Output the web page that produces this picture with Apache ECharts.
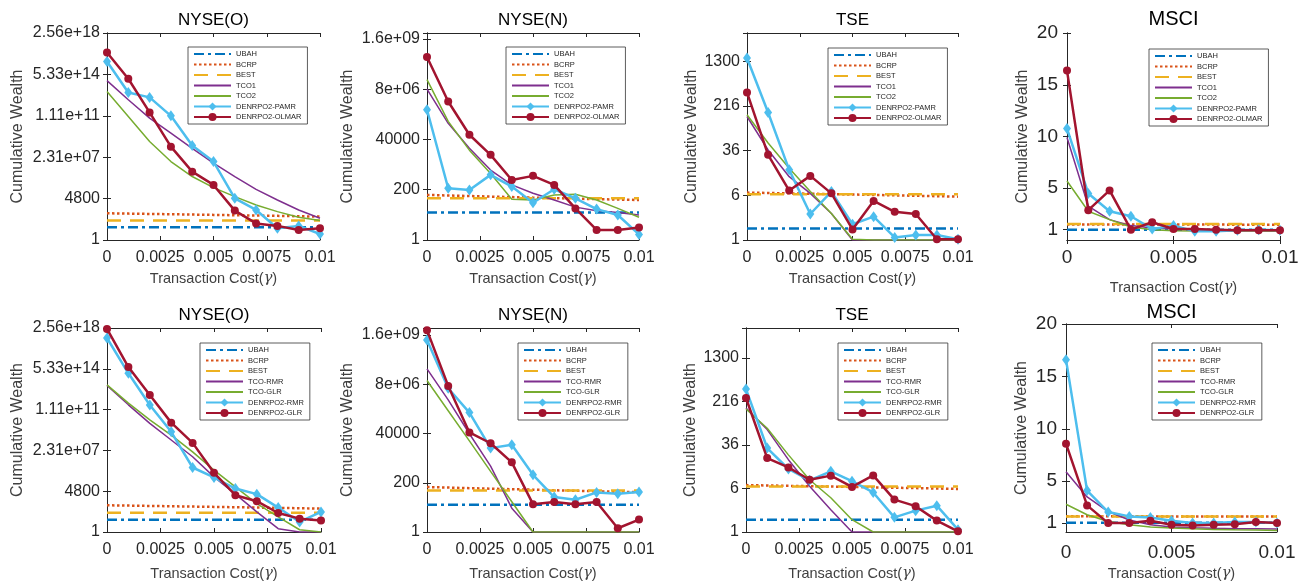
<!DOCTYPE html>
<html lang="en">
<head>
    <meta charset="UTF-8">
    <title>Cumulative Wealth vs Transaction Cost</title>
    <script src="https://cdn.jsdelivr.net/npm/echarts@6/dist/echarts.min.js"></script>
    <style>
        html, body { margin: 0; padding: 0; background: #fff; }
        #main { width: 1311px; height: 586px; }
    </style>
</head>
<body>
<div id="main"></div>
<script type="text/javascript">
    // transaction cost values (x)
    var gammas = [0, 0.001, 0.002, 0.003, 0.004, 0.005, 0.006, 0.007, 0.008, 0.009, 0.01];

    var namesTop = ['UBAH', 'BCRP', 'BEST', 'TCO1', 'TCO2', 'DENRPO2-PAMR', 'DENRPO2-OLMAR'];
    var namesBottom = ['UBAH', 'BCRP', 'BEST', 'TCO-RMR', 'TCO-GLR', 'DENRPO2-RMR', 'DENRPO2-GLR'];

    // tick labels of the log axes
    var ticksNyseO = ['1', '4800', '2.31e+07', '1.11e+11', '5.33e+14', '2.56e+18'];
    var ticksNyseN = ['1', '200', '40000', '8e+06', '1.6e+09'];
    var ticksTse = ['1', '6', '36', '216', '1300'];
    var ticksMsci = [1, 5, 10, 15, 20];

    // cumulative wealth, one row per series (same order as names)
    var nyseOTop = [
        [13.4, 13.4, 13.4, 13.4, 13.4, 13.4, 13.4, 13.4, 13.4, 13.4, 13.4],
        [237, 222, 208, 195, 183, 171, 160, 150, 140, 130, 120],
        [53, 53, 53, 53, 53, 53, 53, 53, 53, 53, 53],
        [1.5e14, 3.0e12, 6.9e10, 3.2e9, 1.4e8, 6.8e6, 4.4e5, 3.2e4, 3.6e3, 470, 85],
        [1.6e13, 9.6e10, 5.7e8, 9.5e6, 4.4e5, 4.6e4, 7.2e3, 1.3e3, 333, 105, 53],
        [7.6e15, 1.3e13, 4.8e12, 1.1e11, 2.5e8, 9.5e6, 5.1e3, 470, 11, 18, 3.4],
        [4.8e16, 2.2e14, 2.2e11, 2.0e8, 1.2e6, 7.9e4, 410, 30, 18, 7.8, 11]
    ];
    var nyseNTop = [
        [18, 18, 18, 18, 18, 18, 18, 18, 18, 18, 18],
        [116, 109, 103, 97, 92, 87, 82, 78, 74, 71, 68],
        [81, 81, 81, 81, 81, 81, 81, 81, 81, 81, 81],
        [8.1e6, 2.2e5, 1.6e4, 1.6e3, 333, 138, 68, 32, 22, 18, 14],
        [2.2e7, 2.7e5, 1.3e4, 1.1e3, 74, 68, 116, 124, 68, 28, 11],
        [9.2e5, 234, 196, 960, 280, 51, 211, 81, 26, 14, 1.8],
        [2.4e8, 2.2e6, 6.6e4, 7.9e3, 562, 863, 333, 28, 2.9, 2.9, 3.7]
    ];
    var tseTop = [
        [1.58, 1.58, 1.58, 1.58, 1.58, 1.58, 1.58, 1.58, 1.58, 1.58, 1.58],
        [6.7, 6.6, 6.5, 6.4, 6.3, 6.2, 6.1, 6.0, 5.9, 5.8, 5.7],
        [6.27, 6.27, 6.27, 6.27, 6.27, 6.27, 6.27, 6.27, 6.27, 6.27, 6.27],
        [142, 37, 12.7, 6.5, 2.9, 1, 1, 1, 1, 1, 1],
        [152, 49, 17.8, 7.0, 2.9, 1.03, 1, 1, 1, 1, 1],
        [1483, 167, 16.7, 2.84, 6.98, 1.88, 2.55, 1.11, 1.22, 1.22, 1.03],
        [373, 30.5, 7.26, 13.1, 6.5, 1.53, 4.8, 3.1, 2.84, 1.03, 1.03]
    ];
    var msciTop = [
        [0.98, 0.98, 0.98, 0.98, 0.98, 0.98, 0.98, 0.98, 0.98, 0.98, 0.98],
        [1.5, 1.5, 1.5, 1.5, 1.49, 1.49, 1.49, 1.49, 1.48, 1.48, 1.48],
        [1.55, 1.55, 1.55, 1.55, 1.55, 1.55, 1.55, 1.55, 1.55, 1.55, 1.55],
        [9.9, 3.27, 1.97, 1.39, 1.16, 1.06, 1.02, 1.0, 0.99, 0.98, 0.97],
        [5.7, 2.78, 1.97, 1.26, 1.0, 0.9, 0.88, 0.87, 0.86, 0.86, 0.85],
        [10.77, 4.5, 2.78, 2.29, 1.06, 1.39, 0.84, 0.84, 0.94, 1.0, 0.94],
        [16.37, 2.88, 4.79, 1.0, 1.71, 1.06, 1.06, 1.0, 0.94, 0.94, 0.94]
    ];
    var nyseOBottom = [
        [13, 13, 13, 13, 13, 13, 13, 13, 13, 13, 13],
        [259, 241, 225, 210, 196, 184, 172, 161, 150, 139, 129],
        [56, 56, 56, 56, 56, 56, 56, 56, 56, 56, 56],
        [1.7e13, 3.0e11, 6.4e9, 2.0e8, 6.2e6, 9.5e4, 2.6e3, 65, 2.0, 1, 1],
        [1.9e13, 4.2e11, 1.3e10, 5.6e8, 1.7e7, 3.8e5, 1.2e4, 363, 23, 1.6, 1],
        [3.2e17, 2.1e14, 2.9e11, 1.1e9, 6.6e5, 8.3e4, 8.3e3, 2.6e3, 160, 8.0, 65],
        [2.1e18, 7.6e14, 2.3e12, 7.4e9, 1.1e8, 2.2e5, 2.1e3, 600, 52, 16, 11]
    ];
    var nyseNBottom = [
        [18.8, 18.8, 18.8, 18.8, 18.8, 18.8, 18.8, 18.8, 18.8, 18.8, 18.8],
        [126, 119, 112, 106, 100, 95, 89, 85, 80, 76, 73],
        [88, 88, 88, 88, 88, 88, 88, 88, 88, 88, 88],
        [4.2e7, 1.5e6, 3.9e4, 1.2e3, 13, 1, 1, 1, 1, 1, 1],
        [1.2e7, 4.6e5, 1.8e4, 676, 26, 1, 1, 1, 1, 1, 1],
        [9.4e8, 5.2e6, 3.8e5, 8.3e3, 1.2e4, 470, 43, 32, 71, 61, 73],
        [2.7e9, 6.7e6, 4.5e4, 1.4e4, 1.8e3, 20, 25, 20, 25, 1.5, 3.8]
    ];
    var tseBottom = [
        [1.66, 1.66, 1.66, 1.66, 1.66, 1.66, 1.66, 1.66, 1.66, 1.66, 1.66],
        [6.9, 6.8, 6.7, 6.6, 6.5, 6.4, 6.3, 6.2, 6.1, 6.0, 5.9],
        [6.5, 6.5, 6.5, 6.5, 6.5, 6.5, 6.5, 6.5, 6.5, 6.5, 6.5],
        [165, 68, 19.7, 6.6, 2.5, 1, 1, 1, 1, 1, 1],
        [159, 72, 24, 8.6, 4.1, 1.66, 1, 1, 1, 1, 1],
        [361, 31.8, 13.4, 8.4, 12.2, 8.1, 5.1, 1.83, 2.41, 2.96, 1.1],
        [250, 21, 14.3, 8.6, 10.2, 6.4, 10.3, 3.8, 2.9, 1.6, 1.03]
    ];
    var msciBottom = [
        [1.03, 1.03, 1.03, 1.03, 1.03, 1.03, 1.03, 1.03, 1.03, 1.03, 1.03],
        [1.66, 1.66, 1.65, 1.65, 1.64, 1.64, 1.63, 1.63, 1.62, 1.62, 1.62],
        [1.64, 1.64, 1.64, 1.64, 1.64, 1.64, 1.64, 1.64, 1.64, 1.64, 1.64],
        [5.9, 3.5, 2.1, 1.3, 0.84, 0.62, 0.55, 0.5, 0.47, 0.45, 0.43],
        [2.8, 1.8, 1.16, 0.84, 0.62, 0.52, 0.45, 0.4, 0.36, 0.33, 0.3],
        [16.6, 4.1, 2.05, 1.64, 1.54, 1.22, 1.0, 1.0, 1.1, 1.1, 1.0],
        [8.58, 2.69, 1.0, 1.0, 1.22, 0.84, 0.78, 0.84, 0.9, 1.1, 1.0]
    ];

    // line styles (MATLAB default colours)
    var styles = [
        { color: '#0072BD', width: 2.5, type: [10, 4, 3, 4], symbol: 'none' },
        { color: '#D95319', width: 2.5, type: [2.5, 2.5], symbol: 'none' },
        { color: '#EDB120', width: 2.5, type: [14, 9], symbol: 'none' },
        { color: '#7E2F8E', width: 1.5, type: 'solid', symbol: 'none' },
        { color: '#77AC30', width: 1.5, type: 'solid', symbol: 'none' },
        { color: '#4DBEEE', width: 2.5, type: 'solid', symbol: 'diamond', size: [8, 11] },
        { color: '#A2142F', width: 2.5, type: 'solid', symbol: 'circle', size: 8 }
    ];

    var FONT = 'Liberation Sans, Arial, Helvetica, sans-serif';
    var AX = '#262626';

    var panels = [
        { title: 'NYSE(O)', data: nyseOTop, names: namesTop, base: 4800, max: 2.56e18, labels: ticksNyseO,
          left: 107, top: 33, width: 213, height: 207, titleY: 20, nameGap: 81, legend: [188, 47] },
        { title: 'NYSE(N)', data: nyseNTop, names: namesTop, base: 200, max: 3.0e9, labels: ticksNyseN,
          left: 427, top: 33, width: 212, height: 207, titleY: 20, nameGap: 71, legend: [506, 47] },
        { title: 'TSE', data: tseTop, names: namesTop, base: 6, max: 4050, labels: ticksTse,
          left: 747, top: 33, width: 211, height: 207, titleY: 20, nameGap: 47, legend: [828, 48] },
        { title: 'MSCI', data: msciTop, names: namesTop, linear: true, min: 0, max: 20,
          left: 1067, top: 33, width: 213, height: 207, titleY: 19, nameGap: 36, legend: [1149, 49], xNameGap: 40 },
        { title: 'NYSE(O)', data: nyseOBottom, names: namesBottom, base: 4800, max: 2.56e18, labels: ticksNyseO,
          left: 107, top: 328, width: 214, height: 204, titleY: 315, nameGap: 81, legend: [200, 343] },
        { title: 'NYSE(N)', data: nyseNBottom, names: namesBottom, base: 200, max: 3.4e9, labels: ticksNyseN,
          left: 427, top: 328, width: 212, height: 204, titleY: 315, nameGap: 71, legend: [518, 343] },
        { title: 'TSE', data: tseBottom, names: namesBottom, base: 6, max: 4470, labels: ticksTse,
          left: 746, top: 328, width: 212, height: 204, titleY: 315, nameGap: 47, legend: [838, 343] },
        { title: 'MSCI', data: msciBottom, names: namesBottom, linear: true, min: 0.15, max: 20,
          left: 1066, top: 324, width: 211, height: 208, titleY: 312, nameGap: 36, legend: [1152, 343] }
    ];

    function logFormatter(base, labels) {
        return function (v) {
            var e = Math.log(v) / Math.log(base);
            var k = Math.round(e);
            if (Math.abs(e - k) > 0.02) return '';
            return labels[k] || '';
        };
    }

    var option = {
        animation: false,
        backgroundColor: '#fff',
        textStyle: { fontFamily: FONT },
        title: [], grid: [], xAxis: [], yAxis: [], legend: [], series: []
    };

    panels.forEach(function (p, i) {
        var big = p.linear; // MSCI panels are drawn with larger text
        var titleSize = big ? 20 : 17;
        option.grid.push({ left: p.left, top: p.top, width: p.width, height: p.height, containLabel: false });
        option.title.push({
            text: p.title, left: p.left + p.width / 2, top: p.titleY - titleSize / 2, textAlign: 'center',
            padding: 0,
            textStyle: { fontFamily: FONT, fontWeight: 'normal', fontSize: titleSize, color: '#000' }
        });

        var xBase = {
            type: 'value', gridIndex: i, min: 0, max: 0.01, interval: big ? 0.005 : 0.0025,
            axisLine: { show: true, lineStyle: { color: AX, width: 1 } },
            axisTick: { show: true, inside: true, length: 4, lineStyle: { color: AX } },
            splitLine: { show: false }
        };
        option.xAxis.push(Object.assign({}, xBase, {
            position: 'bottom',
            name: 'Transaction Cost({g|γ})', nameLocation: 'middle', nameGap: p.xNameGap || (i < 4 ? 31 : 34),
            nameTextStyle: { fontFamily: FONT, fontSize: 14.5, color: '#404040',
                rich: { g: { fontFamily: 'DejaVu Serif, serif', fontStyle: 'italic', fontSize: 14.5, color: '#404040' } } },
            axisLabel: { fontFamily: FONT, fontSize: big ? 19 : 16, color: AX, margin: big ? (i < 4 ? 8 : 11) : 10,
                formatter: function (v) { return String(+v.toFixed(4)); } }
        }));
        option.xAxis.push(Object.assign({}, xBase, { position: 'top', axisLabel: { show: false } }));

        var yBase = {
            gridIndex: i,
            axisLine: { show: true, lineStyle: { color: AX, width: 1 } },
            axisTick: { show: true, inside: true, length: 4, lineStyle: { color: AX } },
            splitLine: { show: false }
        };
        if (p.linear) {
            yBase.type = 'value'; yBase.min = p.min; yBase.max = p.max;
            yBase.axisTick.customValues = ticksMsci;
        } else {
            yBase.type = 'log'; yBase.logBase = p.base; yBase.min = 1; yBase.max = p.max;
        }
        var yLeft = Object.assign({}, yBase, {
            position: 'left',
            name: 'Cumulative Wealth', nameLocation: 'middle', nameRotate: 90, nameGap: p.nameGap,
            nameTextStyle: { fontFamily: FONT, fontSize: 16, color: '#404040' },
            axisLabel: { fontFamily: FONT, fontSize: big ? 19 : 16, color: AX, margin: big ? 9 : 7 }
        });
        if (p.linear) {
            yLeft.axisLabel.customValues = ticksMsci;
            yLeft.axisLabel.formatter = function (v) { return String(v); };
        } else {
            yLeft.axisLabel.formatter = logFormatter(p.base, p.labels);
        }
        option.yAxis.push(yLeft);
        option.yAxis.push(Object.assign({}, yBase, { position: 'right', axisLabel: { show: false } }));

        // plain lines get no marker in the legend
        var legendData = p.names.map(function (n, s) {
            if (styles[s].symbol !== 'none') return n;
            return { name: n, itemStyle: { color: 'rgba(0,0,0,0)', borderColor: 'rgba(0,0,0,0)', borderWidth: 0, opacity: 0 } };
        });
        option.legend.push({
            left: p.legend[0], top: p.legend[1], orient: 'vertical', data: legendData,
            itemWidth: 37, itemHeight: 10, itemGap: 2.5, padding: [3, 6, 3, 5],
            backgroundColor: '#fff', borderColor: '#333', borderWidth: 0.8, borderRadius: 0,
            selectedMode: false,
            textStyle: { fontFamily: FONT, fontSize: 7.5, color: AX }
        });

        p.data.forEach(function (vals, s) {
            var st = styles[s];
            option.series.push({
                type: 'line', name: p.names[s], xAxisIndex: 2 * i, yAxisIndex: 2 * i,
                data: gammas.map(function (g, k) { return [g, vals[k]]; }),
                symbol: st.symbol, symbolSize: st.size || 6, showSymbol: st.symbol !== 'none',
                itemStyle: { color: st.color },
                lineStyle: { color: st.color, width: st.width, type: st.type },
                emphasis: { disabled: true },
                clip: true, z: 2 + s
            });
        });
    });

    var myChart = echarts.init(document.getElementById('main'));
    myChart.setOption(option);
</script>
</body>
</html>
